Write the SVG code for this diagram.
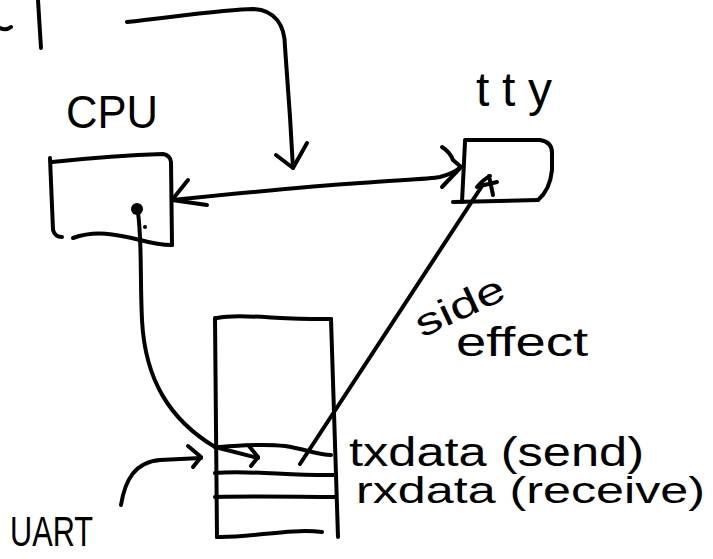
<svg xmlns="http://www.w3.org/2000/svg" width="713" height="559" viewBox="0 0 713 559">
<style>
.s{fill:none;stroke:#000;stroke-width:4;stroke-linecap:round;stroke-linejoin:round}
.t{font-family:"Liberation Sans","DejaVu Sans",sans-serif;fill:#000}
</style>
<rect width="713" height="559" fill="#fff"/>
<g id="fragments">
<path class="s" d="M0,28 Q6,31 11,27"/>
<path class="s" d="M38,0 L41,48"/>
</g>
<g id="cpu">
<text class="t" x="66" y="128" font-size="46" textLength="92" lengthAdjust="spacingAndGlyphs">CPU</text>
<path class="s" d="M52,162 C90,158 130,155 163,154 Q170,155 171,162 L172,245"/>
<path class="s" d="M50,158 L53,230 Q55,237 62,237"/>
<path class="s" d="M73,238 C95,230 115,234 140,240 C155,244 165,245 172,245"/>
<circle cx="137" cy="209" r="6"/>
<circle cx="145" cy="227" r="2"/>
</g>
<g id="tty">
<text class="t" x="476" y="106" font-size="48" textLength="76" lengthAdjust="spacing">tty</text>
<path class="s" d="M465,140 L540,140 Q553,142 552,155 L552,170 Q550,190 538,200"/>
<path class="s" d="M453,202 L538,200"/>
<path class="s" d="M465,142 L462,202"/>
<path class="s" d="M477,187 Q484,179 490,176 M489,176 L493,195 M480,186 L497,182"/>
</g>
<g id="uart">
<path class="s" d="M217,318 C240,313 280,320 331,319"/>
<path class="s" d="M215,318 L217,537"/>
<path class="s" d="M331,319 L338,537"/>
<path class="s" d="M217,537 C250,538 290,528 322,532"/>
<path class="s" d="M215,447 C240,446 260,443 285,446 C305,449 318,455 331,455"/>
<path class="s" d="M215,473 C250,470 290,476 336,475"/>
<path class="s" d="M215,497 C260,496 300,497 336,497"/>
<text class="t" x="10" y="546" font-size="42" textLength="83" lengthAdjust="spacingAndGlyphs">UART</text>
</g>
<g id="labels">
<text class="t" x="349" y="466" font-size="40" textLength="295" lengthAdjust="spacingAndGlyphs">txdata (send)</text>
<text class="t" x="356" y="503" font-size="36" textLength="349" lengthAdjust="spacingAndGlyphs">rxdata (receive)</text>
<text class="t" x="422" y="338" font-size="38" textLength="95" lengthAdjust="spacingAndGlyphs" transform="rotate(-25 422 338)">side</text>
<text class="t" x="456" y="356" font-size="40" textLength="132" lengthAdjust="spacingAndGlyphs">effect</text>
</g>
<g id="connectors">
<path class="s" d="M127,22 C180,16 230,9 253,9 C275,10 285,25 285,47 L290,117 L293,168"/>
<path class="s" d="M276,155 L293,168 L307,143"/>
<path class="s" d="M172,200 C250,192 330,185 360,183 C400,180 430,179 440,177 Q452,174 461,167"/>
<path class="s" d="M188,180 L172,200 L207,205"/>
<path class="s" d="M442,147 Q450,152 453,160 L461,167 L442,187"/>
<path class="s" d="M138,213 C142,240 140,280 142,320 C145,380 170,420 215,447 L258,458"/>
<path class="s" d="M249,446 L258,457 L251,466"/>
<path class="s" d="M482,186 L300,464"/>
<path class="s" d="M121,505 C125,480 135,462 160,460 L201,458"/>
<path class="s" d="M188,446 L201,457 L193,467"/>
</g>
</svg>
